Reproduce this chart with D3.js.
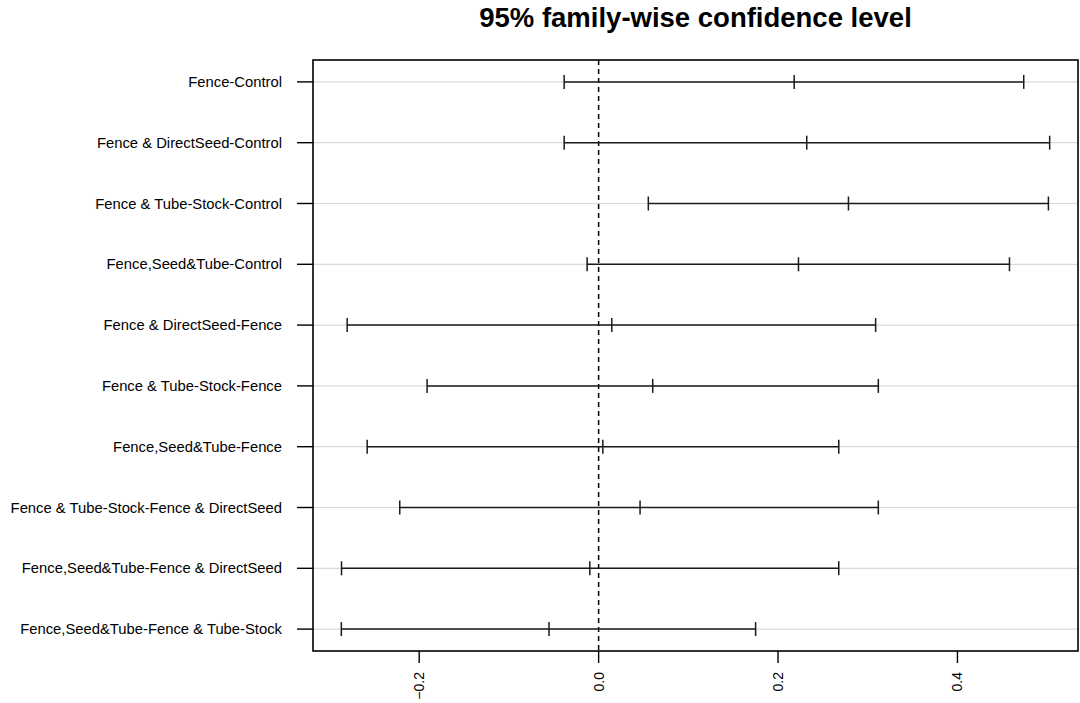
<!DOCTYPE html>
<html>
<head>
<meta charset="utf-8">
<script src="https://cdn.jsdelivr.net/npm/d3@7"></script>
<style>
  html, body { margin: 0; padding: 0; background: #fff; }
  svg { display: block; }
  text { font-family: "Liberation Sans", Arial, sans-serif; fill: #000; }
</style>
</head>
<body>
<svg id="chart" width="1080" height="703"></svg>
<script>
// ---- data ----
const comparisons = [
  "Fence-Control",
  "Fence & DirectSeed-Control",
  "Fence & Tube-Stock-Control",
  "Fence,Seed&Tube-Control",
  "Fence & DirectSeed-Fence",
  "Fence & Tube-Stock-Fence",
  "Fence,Seed&Tube-Fence",
  "Fence & Tube-Stock-Fence & DirectSeed",
  "Fence,Seed&Tube-Fence & DirectSeed",
  "Fence,Seed&Tube-Fence & Tube-Stock"
];
const diff = [0.218, 0.232, 0.2785, 0.2228, 0.0147, 0.0603, 0.0047, 0.0462, -0.0098, -0.0553];
const lwr  = [-0.0384, -0.0384, 0.0554, -0.0128, -0.2803, -0.1912, -0.258, -0.2217, -0.2866, -0.2868];
const upr  = [0.4739, 0.5028, 0.5014, 0.458, 0.3088, 0.3118, 0.2677, 0.3118, 0.2677, 0.175];
const xTicks = [-0.2, 0.0, 0.2, 0.4];
const title = "95% family-wise confidence level";

// ---- layout ----
const svg = d3.select("#chart");
const plot = { left: 313, right: 1078, top: 60, bottom: 651 };
const n = comparisons.length;

// R-style 4% expanded ranges
const xmin = d3.min(lwr), xmax = d3.max(upr);
const xr = xmax - xmin;
const x = d3.scaleLinear()
  .domain([xmin - 0.04 * xr, xmax + 0.04 * xr])
  .range([plot.left, plot.right]);
const yr = n - 1;
const y = d3.scaleLinear()
  .domain([1 - 0.04 * yr, n + 0.04 * yr])
  .range([plot.bottom, plot.top]);
const yPos = i => y(n - i);

// gridlines
svg.append("g").selectAll("line").data(comparisons).join("line")
  .attr("x1", plot.left).attr("x2", plot.right)
  .attr("y1", (d, i) => yPos(i)).attr("y2", (d, i) => yPos(i))
  .attr("stroke", "#d9d9d9").attr("stroke-width", 1.2);

// zero line
svg.append("line")
  .attr("x1", x(0)).attr("x2", x(0))
  .attr("y1", plot.top).attr("y2", plot.bottom)
  .attr("stroke", "#000").attr("stroke-width", 1.5)
  .attr("stroke-dasharray", "5,4");

// intervals
const bars = svg.append("g").attr("stroke", "#1a1a1a").attr("stroke-width", 1.5);
comparisons.forEach((c, i) => {
  const yy = yPos(i);
  bars.append("line").attr("x1", x(lwr[i])).attr("x2", x(upr[i])).attr("y1", yy).attr("y2", yy);
  [lwr[i], diff[i], upr[i]].forEach(v => {
    bars.append("line").attr("x1", x(v)).attr("x2", x(v)).attr("y1", yy - 7).attr("y2", yy + 7);
  });
});

// box
svg.append("rect")
  .attr("x", plot.left).attr("y", plot.top)
  .attr("width", plot.right - plot.left).attr("height", plot.bottom - plot.top)
  .attr("fill", "none").attr("stroke", "#000").attr("stroke-width", 1.6);

// y axis
const yAxis = svg.append("g");
comparisons.forEach((c, i) => {
  const yy = yPos(i);
  yAxis.append("line").attr("x1", plot.left - 16).attr("x2", plot.left)
    .attr("y1", yy).attr("y2", yy).attr("stroke", "#000").attr("stroke-width", 1.4);
  yAxis.append("text").attr("x", 282).attr("y", yy).attr("dy", "0.35em")
    .attr("text-anchor", "end").style("font-size", "14.8px").text(c);
});

// x axis
const xAxis = svg.append("g");
xTicks.forEach(t => {
  xAxis.append("line").attr("x1", x(t)).attr("x2", x(t))
    .attr("y1", plot.bottom).attr("y2", plot.bottom + 12)
    .attr("stroke", "#000").attr("stroke-width", 1.4);
  xAxis.append("text")
    .attr("transform", `translate(${x(t)},${plot.bottom + 21}) rotate(-90)`)
    .attr("dy", "0.35em").attr("text-anchor", "end")
    .style("font-size", "14px").text(d3.format(".1f")(t));
});

// title
svg.append("text").attr("x", (plot.left + plot.right) / 2).attr("y", 27)
  .attr("text-anchor", "middle").style("font-size", "27.5px").style("font-weight", "bold")
  .text(title);
</script>
</body>
</html>
